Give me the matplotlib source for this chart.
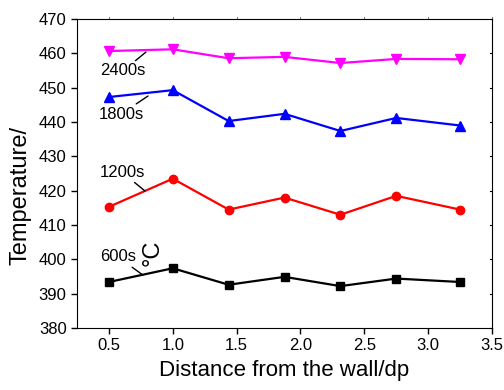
import matplotlib
matplotlib.use("Agg")
import matplotlib.pyplot as plt

plt.rcParams['font.family'] = ['Liberation Sans', 'DejaVu Sans']

distance = [0.5, 1.0, 1.4375, 1.875, 2.3125, 2.75, 3.25]
t600 = [393.4, 397.4, 392.6, 394.9, 392.2, 394.4, 393.4]
t1200 = [415.3, 423.5, 414.5, 418.0, 413.0, 418.5, 414.5]
t1800 = [447.3, 449.3, 440.3, 442.4, 437.4, 441.2, 439.0]
t2400 = [460.7, 461.2, 458.6, 459.0, 457.2, 458.4, 458.3]

fig = plt.figure(figsize=(5.04, 3.9), dpi=100)
ax = fig.add_axes([0.1528, 0.159, 0.8234, 0.792])

ax.plot(distance, t600, color='black', marker='s', markersize=6, lw=1.6)
ax.plot(distance, t1200, color='red', marker='o', markersize=6, lw=1.6)
ax.plot(distance, t1800, color='blue', marker='^', markersize=7, lw=1.6)
ax.plot(distance, t2400, color='magenta', marker='v', markersize=7, lw=1.6)

ax.set_xlim(0.25, 3.5)
ax.set_ylim(380, 470)
ax.set_xticks([0.5, 1.0, 1.5, 2.0, 2.5, 3.0, 3.5])
ax.set_yticks(range(380, 471, 10))
ax.tick_params(axis='both', labelsize=12, direction='out', length=4, width=1)

# little marks on top and right
for y in range(380, 471, 10):
    ax.plot([3.5, 3.485], [y, y], color='black', lw=0.8, clip_on=False)
for x in [0.5, 1.0, 1.5, 2.0, 2.5, 3.0, 3.5]:
    ax.plot([x, x], [470, 470.6], color='gray', lw=0.8, clip_on=False)

ax.set_xlabel('Distance from the wall/dp', fontsize=16, labelpad=5)
fig.text(0.04, 0.50, 'Temperature/', rotation=90, fontsize=17,
         ha='center', va='center')

lbl = dict(fontsize=12, ha='center', va='center',
           arrowprops=dict(arrowstyle='-', color='black', lw=1, shrinkA=0, shrinkB=0))
ax.annotate('2400s', xy=(0.79, 460.4), xytext=(0.61, 454.9), **lbl)
ax.annotate('1800s', xy=(0.806, 447.6), xytext=(0.594, 442.3), **lbl)
ax.annotate('1200s', xy=(0.783, 419.9), xytext=(0.602, 425.4), **lbl)
ax.annotate('600s', xy=(0.767, 395.4), xytext=(0.571, 400.7), **lbl)
ax.text(0.845, 401.8, '°C', rotation=90, fontsize=17, ha='center', va='center')

fig.savefig('out.png', dpi=100)
